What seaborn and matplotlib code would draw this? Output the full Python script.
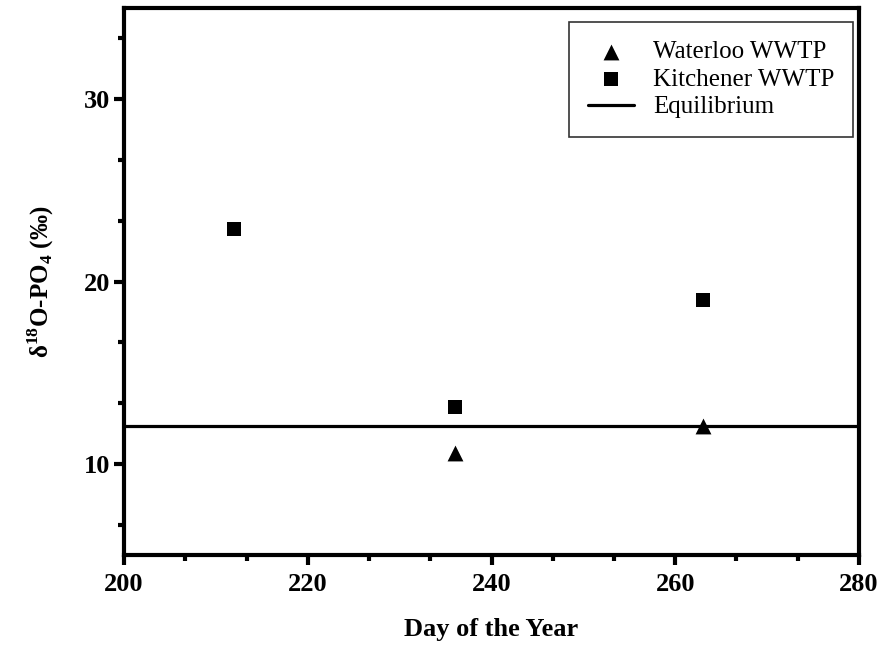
import matplotlib
matplotlib.use("Agg")
import matplotlib.pyplot as plt
from matplotlib.ticker import MultipleLocator, FixedLocator
import seaborn as sns
import pandas as pd
import numpy as np

waterloo_day = [236, 263]
waterloo_val = [10.6, 12.1]
kitchener_day = [212, 236, 263]
kitchener_val = [22.9, 13.1, 19.0]
equilibrium = 12.1

sns.set_style("ticks")
plt.rcParams['font.family'] = ['Liberation Serif', 'DejaVu Serif']
plt.rcParams['mathtext.fontset'] = 'custom'
plt.rcParams['mathtext.rm'] = 'Liberation Serif:bold'
plt.rcParams['mathtext.bf'] = 'Liberation Serif:bold'
plt.rcParams['text.color'] = 'black'

fig = plt.figure(figsize=(8.86, 6.47), dpi=100)
ax = fig.add_axes([0.14, 0.142, 0.8295, 0.8456])

df_w = pd.DataFrame({"day": waterloo_day, "val": waterloo_val})
df_k = pd.DataFrame({"day": kitchener_day, "val": kitchener_val})

sns.scatterplot(data=df_w, x="day", y="val", marker="^", s=130, color="black",
                edgecolor="black", linewidth=0, ax=ax, label="Waterloo WWTP", zorder=3)
sns.scatterplot(data=df_k, x="day", y="val", marker="s", s=110, color="black",
                edgecolor="black", linewidth=0, ax=ax, label="Kitchener WWTP", zorder=3)
ax.axhline(equilibrium, color="black", lw=2.3, label="Equilibrium", zorder=2)

ax.set_xlim(200, 280)
ax.set_ylim(5, 35)
ax.xaxis.set_major_locator(MultipleLocator(20))
ax.xaxis.set_minor_locator(MultipleLocator(20/3))
ax.yaxis.set_major_locator(FixedLocator([10, 20, 30]))
ax.yaxis.set_minor_locator(FixedLocator([20/3, 40/3, 50/3, 70/3, 80/3, 100/3]))

for s in ax.spines.values():
    s.set_linewidth(3)
    s.set_color("black")
    s.set_visible(True)
ax.tick_params(which='major', length=7, width=3, labelsize=19, pad=3, color="black", labelcolor="black")
ax.tick_params(axis='x', which='major', pad=6)
ax.tick_params(which='minor', length=4.5, width=3, color="black")
for lbl in ax.get_xticklabels() + ax.get_yticklabels():
    lbl.set_fontweight('bold')

ax.set_xlabel("Day of the Year", fontsize=19, fontweight='bold', labelpad=16, color="black")
ax.set_ylabel(r"δ$^{18}$O-PO$_4$ (‰)", fontsize=18, fontweight='bold', labelpad=20, color="black")

leg = ax.legend(loc="upper right", fontsize=18, frameon=True, fancybox=False,
                edgecolor="black", bbox_to_anchor=(0.9918, 0.9744), borderaxespad=0,
                handlelength=1.85, handletextpad=0.75, borderpad=0.75, labelspacing=0.2)
leg.get_frame().set_linewidth(1.2)
for t in leg.get_texts():
    t.set_color("black")

fig.savefig("out.png", dpi=100)
